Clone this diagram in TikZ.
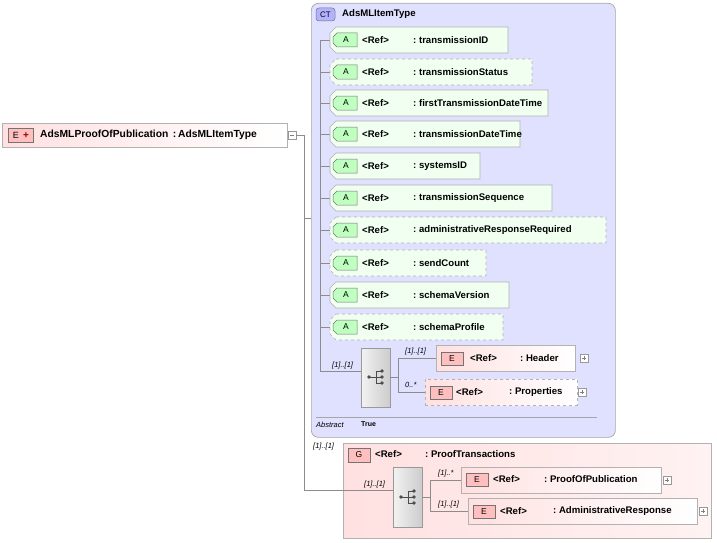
\documentclass[tikz,border=0pt]{standalone}
\usepackage{fontspec}
\setmainfont{Liberation Sans}
\begin{document}
\begin{tikzpicture}[x=1pt,y=-1pt,
  lin/.style={draw=black!45,line width=0.6pt},
  txt/.style={font=\bfseries\fontsize{9.6}{10}\selectfont,anchor=west,inner sep=0pt},
  card/.style={font=\itshape\fontsize{7.5}{8}\selectfont,anchor=west,inner sep=0pt},
  attbox/.style={draw=black!30,fill=green!6,line width=0.6pt},
  elbox/.style={draw=black!30,left color=red!12,right color=white,line width=0.6pt},
  badge/.style={draw=black!55,fill=red!25,line width=0.5pt},
  plusbox/.style={draw=black!40,fill=white,line width=0.4pt}]
\useasboundingbox (0,0) rectangle (717,543);
% root
\node[elbox,minimum width=285,minimum height=24,anchor=north west,inner sep=0] (root) at (2,123) {};
\draw[badge] (8,128) rectangle (33,142);
\node[font=\fontsize{9}{10}\selectfont,inner sep=0] at (16,135.5) {E};
\node[font=\bfseries\fontsize{10}{10}\selectfont,text=red!60!black,inner sep=0] at (26,135.5) {+};
\node[txt,font=\bfseries\fontsize{10.3}{11}\selectfont] at (40,135) {AdsMLProofOfPublication\, :\,AdsMLItemType};
\draw[plusbox] (288,131) rectangle (296,139);
\draw[black!50,line width=0.5pt] (290,135) -- (294,135);
\coordinate (j) at (304,135);
\draw[lin] (296,135) -- (j) -- (304,490) -- (343,490);
\draw[lin] (304,218) -- (311,218);
% CT
\node[draw=black!35,fill=blue!12,rounded corners=7,line width=0.7pt,minimum width=304,minimum height=434,anchor=north west,inner sep=0] (ct) at (311,3) {};
\draw[draw=black!55,fill=blue!30,rounded corners=3,line width=0.5pt] (316,8) rectangle (335,21);
\node[font=\fontsize{8}{9}\selectfont,inner sep=0] at (325.5,14.5) {CT};
\node[txt] at (342,14) {AdsMLItemType};
\draw[lin] (320,40) -- (320,371);
\foreach \y/\r/\n/\d in {40/508/transmissionID/0, 72/532/transmissionStatus/1, 103/548/firstTransmissionDateTime/0, 134/520/transmissionDateTime/0, 166/480/systemsID/0, 198/552/transmissionSequence/0, 230/606/administrativeResponseRequired/1, 263/486/sendCount/1, 295/509/schemaVersion/0, 327/503/schemaProfile/1}{
  \draw[lin] (320,\y) -- (330,\y);
  \ifnum\d=1
    \draw[attbox,dashed] (336,\y-13) -- (\r,\y-13) -- (\r,\y+13) -- (336,\y+13) -- (330,\y+7) -- (330,\y-7) -- cycle;
  \else
    \draw[attbox] (336,\y-13) -- (\r,\y-13) -- (\r,\y+13) -- (336,\y+13) -- (330,\y+7) -- (330,\y-7) -- cycle;
  \fi
  \draw[draw=black!55,fill=green!25,line width=0.5pt] (337,\y-7) -- (357,\y-7) -- (357,\y+7) -- (337,\y+7) -- (333,\y+3) -- (333,\y-3) -- cycle;
  \node[font=\fontsize{8.5}{9}\selectfont,inner sep=0] at (346,\y) {A};
  \node[txt] at (362,\y) {<Ref>};
  \node[txt] at (413,\y) {:\ \n};
}
% sequence in CT
\node[draw=black!40,left color=black!5,right color=black!20,minimum width=29,minimum height=59,anchor=north west,inner sep=0] (s1) at (361,348) {};
\draw[lin] (320,371) -- (361,371);
\node[card] at (332,366) {[1]..[1]};
\draw[black!70,line width=0.6pt] (369,377) -- (376,377) (376,371) -- (376,383) (376,371)--(381,371) (376,377)--(381,377) (376,383)--(381,383);
\fill[black!70] (369,377) circle (1.8) (382,371) circle (1.8) (382,377) circle (1.8) (382,383) circle (1.8);
\draw[lin] (390,377) -- (398,377) (398,358) -- (398,392) (398,358) -- (436,358) (398,392) -- (425,392);
\node[card] at (405,352) {[1]..[1]};
\node[card] at (405,385) {0..*};
\node[elbox,minimum width=139,minimum height=26,anchor=north west,inner sep=0] (hd) at (436,345) {};
\draw[badge] (441,352) rectangle (463,365);
\node[font=\fontsize{8.5}{9}\selectfont,inner sep=0] at (452,358.5) {E};
\node[txt] at (470,358) {<Ref>};
\node[txt] at (520,358) {:\ Header};
\draw[plusbox] (580,354) rectangle (588,362); \draw[black!50,line width=0.4pt] (582,358)--(586,358) (584,356)--(584,360);
\node[elbox,dashed,minimum width=152,minimum height=26,anchor=north west,inner sep=0] (pr) at (425,379) {};
\draw[badge] (430,386) rectangle (452,399);
\node[font=\fontsize{8.5}{9}\selectfont,inner sep=0] at (441,392.5) {E};
\node[txt] at (456,392) {<Ref>};
\node[txt] at (509,392) {:\ Properties};
\draw[plusbox] (578,388) rectangle (586,396); \draw[black!50,line width=0.4pt] (580,392)--(584,392) (582,390)--(582,394);
\draw[black!35,line width=0.6pt] (316,417) -- (597,417);
\node[card] at (316,424.5) {Abstract};
\node[txt,font=\bfseries\fontsize{7}{7}\selectfont] at (361,424) {True};
% group
\node[card] at (313,447) {[1]..[1]};
\node[draw=black!30,left color=red!12,right color=red!5,line width=0.6pt,minimum width=368,minimum height=95,anchor=north west,inner sep=0] (grp) at (343,443) {};
\draw[badge] (348,448) rectangle (370,462);
\node[font=\fontsize{8.5}{9}\selectfont,inner sep=0] at (359,455) {G};
\node[txt] at (375,454) {<Ref>};
\node[txt] at (425,454) {:\ ProofTransactions};
\node[draw=black!40,left color=black!5,right color=black!20,minimum width=29,minimum height=60,anchor=north west,inner sep=0] (s2) at (393,467) {};
\draw[lin] (343,490) -- (393,490);
\node[card] at (364,485) {[1]..[1]};
\draw[black!70,line width=0.6pt] (401,497) -- (408,497) (408,491) -- (408,503) (408,491)--(413,491) (408,497)--(413,497) (408,503)--(413,503);
\fill[black!70] (401,497) circle (1.8) (414,491) circle (1.8) (414,497) circle (1.8) (414,503) circle (1.8);
\draw[lin] (422,497) -- (430,497) (430,480) -- (430,511) (430,480) -- (461,480) (430,511) -- (468,511);
\node[card] at (438,474) {[1]..*};
\node[card] at (438,505) {[1]..[1]};
\node[elbox,minimum width=200,minimum height=26,anchor=north west,inner sep=0] (pop) at (461,467) {};
\draw[badge] (466,473) rectangle (488,486);
\node[font=\fontsize{8.5}{9}\selectfont,inner sep=0] at (477,479.5) {E};
\node[txt] at (493,479) {<Ref>};
\node[txt] at (544,479) {:\ ProofOfPublication};
\draw[plusbox] (663,476) rectangle (671,484); \draw[black!50,line width=0.4pt] (665,480)--(669,480) (667,478)--(667,482);
\node[elbox,minimum width=229,minimum height=26,anchor=north west,inner sep=0] (adm) at (468,498) {};
\draw[badge] (473,505) rectangle (495,518);
\node[font=\fontsize{8.5}{9}\selectfont,inner sep=0] at (484,511.5) {E};
\node[txt] at (500,511) {<Ref>};
\node[txt] at (553,511) {:\ AdministrativeResponse};
\draw[plusbox] (699,507) rectangle (707,515); \draw[black!50,line width=0.4pt] (701,511)--(705,511) (703,509)--(703,513);
\end{tikzpicture}
\end{document}
